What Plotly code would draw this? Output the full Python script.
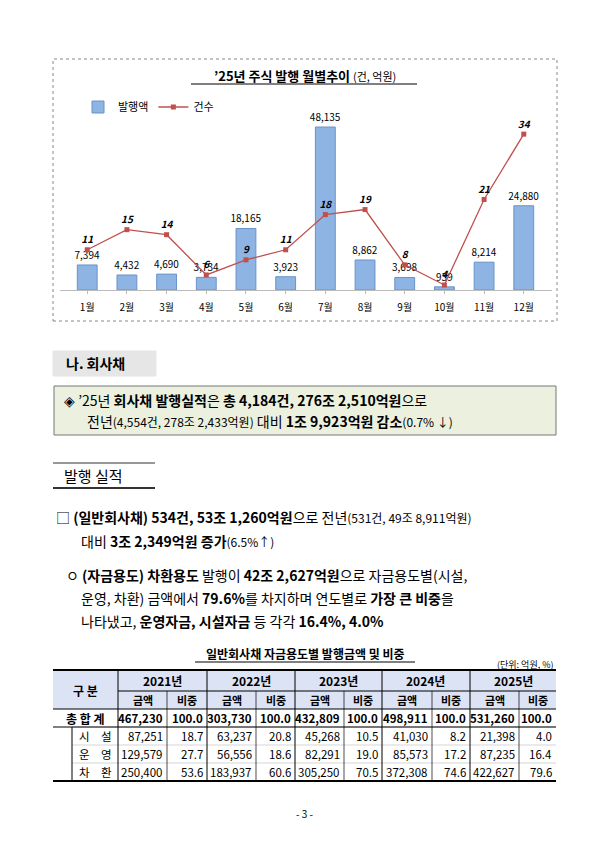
import plotly.graph_objects as go

W, H = 595, 841
months = ["1월","2월","3월","4월","5월","6월","7월","8월","9월","10월","11월","12월"]
amounts = [7394, 4432, 4690, 3734, 18165, 3923, 48135, 8862, 3698, 939, 8214, 24880]
counts = [11, 15, 14, 6, 9, 11, 18, 19, 8, 4, 21, 34]

years = ["2021년", "2022년", "2023년", "2024년", "2025년"]
row_labels = ["총 합 계", "시　설", "운　영", "차　환"]
tbl_amt = [[467230, 303730, 432809, 498911, 531260],
           [87251, 63237, 45268, 41030, 21398],
           [129579, 56556, 82291, 85573, 87235],
           [250400, 183937, 305250, 372308, 422627]]
tbl_pct = [[100.0]*5,
           [18.7, 20.8, 10.5, 8.2, 4.0],
           [27.7, 18.6, 19.0, 17.2, 16.4],
           [53.6, 60.6, 70.5, 74.6, 79.6]]

FONT = "Noto Sans CJK KR"
def X(px): return px / W
def Y(py): return 1 - py / H

fig = go.Figure()
fig.add_trace(go.Bar(x=months, y=amounts, name="발행액", marker=dict(color="#8DB4E2", line=dict(color="#6A93C8", width=1)),
                     text=[f"{v:,}" for v in amounts], textposition="outside", cliponaxis=False, constraintext="none",
                     textfont=dict(size=10, color="#000", family=FONT), width=0.5))
fig.add_trace(go.Scatter(x=months, y=counts, name="건수", yaxis="y2", mode="lines+markers+text",
                         line=dict(color="#C0504D", width=1.3), marker=dict(symbol="square", size=5, color="#C0504D"),
                         text=[f"<b><i>{v}</i></b>" for v in counts], textposition="top center", cliponaxis=False,
                         textfont=dict(size=10, color="#000", family=FONT)))
fig.update_layout(
    width=W, height=H, margin=dict(l=0, r=0, t=0, b=0), paper_bgcolor="white", plot_bgcolor="white",
    font=dict(family=FONT, color="#000"), bargap=0.5,
    showlegend=True,
    legend=dict(orientation="h", x=X(70), y=Y(99), xanchor="left", yanchor="middle", font=dict(size=11), bgcolor="rgba(0,0,0,0)", itemwidth=30),
    xaxis=dict(domain=[X(51.5), X(543.5)], showgrid=False, showline=True, linecolor="#bbb", ticks="outside", ticklen=3,
               tickcolor="#bbb", tickfont=dict(size=10, family=FONT), anchor="y"),
    yaxis=dict(domain=[Y(282), Y(100)], range=[0, 53745], visible=False),
    yaxis2=dict(domain=[Y(282), Y(100)], range=[3, 39.2], visible=False, overlaying="y", anchor="x"),
)
fig.update_xaxes(ticklabelstandoff=5)

shapes = []
ann = []
def text(px, py, s, size=13, anchor="left", bold=False, color="#000"):
    ann.append(dict(x=X(px), y=Y(py), xref="paper", yref="paper", text=(f"<b>{s}</b>" if bold else s), showarrow=False,
                    xanchor=anchor, yanchor="middle", font=dict(size=size, family=FONT, color=color)))
def rect(x0, y0, x1, y1, fill="rgba(0,0,0,0)", line="#000", w=1, dash="solid"):
    shapes.append(dict(type="rect", xref="paper", yref="paper", x0=X(x0), x1=X(x1), y0=Y(y1), y1=Y(y0),
                       fillcolor=fill, line=dict(color=line, width=w, dash=dash), layer="below"))
def line(x0, y0, x1, y1, color="#000", w=1):
    shapes.append(dict(type="line", xref="paper", yref="paper", x0=X(x0), x1=X(x1), y0=Y(y0), y1=Y(y1),
                       line=dict(color=color, width=w)))

rect(45, 51, 549, 313, line="#888", dash="dot")
text(297, 67, "<b>’25년 주식 발행 월별추이</b> <span style='font-size:11px'>(건, 억원)</span>", size=13, anchor="center")
line(183, 76, 409, 76, w=1)

rect(45, 343, 148, 368, fill="#E6E6E6", line="#E6E6E6")
text(56, 355, "나. 회사채", size=14, bold=True)
rect(46, 378, 548, 427, fill="#EBF1DE", line="#777")
text(54, 392, "◈ ’25년 <b>회사채 발행실적</b>은 <b>총 4,184건, 276조 2,510억원</b>으로", size=14)
text(77, 413, "전년<span style='font-size:12px'>(4,554건, 278조 2,433억원)</span> 대비 <b>1조 9,923억원 감소</b><span style='font-size:12px'>(0.7% ↓)</span>", size=14)

text(54, 467, "발행 실적", size=15)
line(45, 455, 147, 455, color="#333", w=1)
line(45, 480, 147, 480, color="#333", w=2)

text(46, 509, "□ <b>(일반회사채) 534건, 53조 1,260억원</b>으로 전년<span style='font-size:12px'>(531건, 49조 8,911억원)</span>", size=14)
text(71, 533, "대비 <b>3조 2,349억원 증가</b><span style='font-size:12px'>(6.5%↑)</span>", size=14)
text(56, 567, "ㅇ <b>(자금용도) 차환용도</b> 발행이 <b>42조 2,627억원</b>으로 자금용도별(시설,", size=14)
text(71, 590, "운영, 차환) 금액에서 <b>79.6%</b>를 차지하며 연도별로 <b>가장 큰 비중</b>을", size=14)
text(71, 613, "나타냈고, <b>운영자금, 시설자금</b> 등 각각 <b>16.4%, 4.0%</b>", size=14)

text(297, 645, "<b>일반회사채 자금용도별 발행금액 및 비중</b>", size=12, anchor="center")
line(187, 654, 407, 654, w=1)
text(548, 656, "(단위: 억원, %)", size=9, anchor="right")

gx = [110, 199, 287, 374, 462, 548]
splits = [159, 248, 336, 424, 511]
rect(45, 662, 548, 701, fill="#DCE3F5", line="rgba(0,0,0,0)")
line(45, 662, 548, 662, w=2)
line(45, 701, 548, 701, w=1)
line(110, 683, 548, 683, w=1)
rows_y = [701, 719, 737, 755, 773]
for yy in rows_y[1:-1]:
    line(64, yy, 548, yy, color="#aaa", w=0.5)
line(45, 719, 548, 719, w=1)
line(45, 773, 548, 773, w=2)
line(64, 719, 64, 773, w=1)
for gxx in gx[:-1]:
    line(gxx, 662, gxx, 773, w=1)
for s in splits:
    line(s, 683, s, 773, w=0.7)
text(77, 682, "<b>구 분</b>", size=12, anchor="center")
for i, yr in enumerate(years):
    text((gx[i] + gx[i+1]) / 2, 672, f"<b>{yr}</b>", size=12, anchor="center")
    text((gx[i] + splits[i]) / 2, 692, "<b>금액</b>", size=11, anchor="center")
    text((splits[i] + gx[i+1]) / 2, 692, "<b>비중</b>", size=11, anchor="center")
for r, lab in enumerate(row_labels):
    cy = (rows_y[r] + rows_y[r+1]) / 2
    b = r == 0
    text(77 if b else 87, cy, lab, size=12 if b else 11.5, anchor="center", bold=b)
    for i in range(5):
        text(splits[i] - 2, cy, f"{tbl_amt[r][i]:,}", size=11.5, anchor="right", bold=b)
        text(gx[i+1] - 2, cy, f"{tbl_pct[r][i]:.1f}", size=11.5, anchor="right", bold=b)

text(297, 805, "- 3 -", size=10, anchor="center")

fig.update_layout(shapes=shapes, annotations=ann)
fig.write_html("out.html")
